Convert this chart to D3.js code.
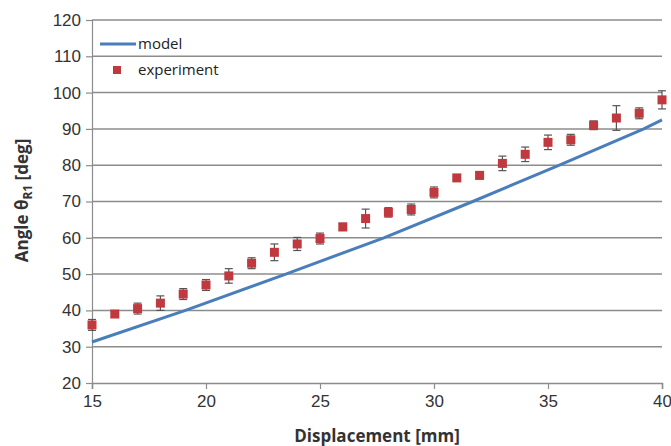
<!DOCTYPE html>
<html>
<head>
<meta charset="utf-8">
<script src="https://cdn.jsdelivr.net/npm/d3@7"></script>
<style>
  body { margin: 0; background: #fff; }
  svg { font-family: "Open Sans", "Liberation Sans", sans-serif; }
</style>
</head>
<body>
<div id="chart"></div>
<script>
// model curve
const modelX = [15, 19.1, 23.5, 27.8, 31.7, 35.5, 39.2, 40];
const modelY = [31.3, 40, 50, 60, 70, 80, 90, 92.5];

// experiment points with error
const expX = [15, 16, 17, 18, 19, 20, 21, 22, 23, 24, 25, 26, 27, 28, 29, 30, 31, 32, 33, 34, 35, 36, 37, 38, 39, 40];
const expY = [36, 39, 40.5, 42, 44.5, 47, 49.5, 53, 56, 58.3, 59.8, 63, 65.3, 67, 67.8, 72.5, 76.5, 77.2, 80.5, 83, 86.3, 87, 91, 93, 94.3, 98];
const expErr = [1.5, 0.8, 1.5, 2, 1.5, 1.5, 2, 1.5, 2.3, 1.8, 1.5, 1, 2.6, 1.3, 1.5, 1.5, 0.5, 1, 2, 2, 2, 1.5, 1.2, 3.4, 1.5, 2.5];

const xTicks = [15, 20, 25, 30, 35, 40];
const yTicks = [20, 30, 40, 50, 60, 70, 80, 90, 100, 110, 120];

const W = 671, H = 446;
const margin = {top: 20, right: 9, bottom: 63, left: 92};
const width = W - margin.left - margin.right;
const height = H - margin.top - margin.bottom;

const svg = d3.select('#chart').append('svg')
    .attr('width', W)
    .attr('height', H);

const g = svg.append('g')
    .attr('transform', `translate(${margin.left},${margin.top})`);

const x = d3.scaleLinear().domain([15, 40]).range([0, width]);
const y = d3.scaleLinear().domain([20, 120]).range([height, 0]);

// gridlines
g.append('g')
    .selectAll('line')
    .data(yTicks.slice(1))
    .enter().append('line')
    .attr('x1', 0)
    .attr('x2', width)
    .attr('y1', d => y(d))
    .attr('y2', d => y(d))
    .attr('stroke', '#8c8c8c')
    .attr('stroke-width', 1.5);

// y axis
const yAxis = g.append('g')
    .call(d3.axisLeft(y).tickValues(yTicks).tickSize(6).tickPadding(5));
yAxis.select('.domain').attr('stroke', '#8c8c8c').attr('stroke-width', 1.2);
yAxis.selectAll('line').attr('stroke', '#8c8c8c').attr('stroke-width', 1.2);
yAxis.selectAll('text').attr('font-size', 17).attr('fill', '#333');

// x axis
const xAxis = g.append('g')
    .attr('transform', `translate(0,${height})`)
    .call(d3.axisBottom(x).tickValues(xTicks).tickSize(6).tickPadding(6));
xAxis.select('.domain').attr('stroke', '#8c8c8c').attr('stroke-width', 1.5);
xAxis.selectAll('line').attr('stroke', '#8c8c8c').attr('stroke-width', 1.2);
xAxis.selectAll('text').attr('font-size', 17).attr('fill', '#333');

// model line
const modelData = modelX.map((d, i) => ({x: d, y: modelY[i]}));
g.append('path')
    .datum(modelData)
    .attr('fill', 'none')
    .attr('stroke', '#4a7ebb')
    .attr('stroke-width', 3)
    .attr('d', d3.line().x(d => x(d.x)).y(d => y(d.y)));

// experiment
const expData = expX.map((d, i) => ({x: d, y: expY[i], e: expErr[i]}));
const pts = g.append('g').selectAll('g')
    .data(expData)
    .enter().append('g');

pts.append('line')
    .attr('x1', d => x(d.x)).attr('x2', d => x(d.x))
    .attr('y1', d => y(d.y - d.e)).attr('y2', d => y(d.y + d.e))
    .attr('stroke', '#555').attr('stroke-width', 1.2);
pts.append('line')
    .attr('x1', d => x(d.x) - 4).attr('x2', d => x(d.x) + 4)
    .attr('y1', d => y(d.y + d.e)).attr('y2', d => y(d.y + d.e))
    .attr('stroke', '#555').attr('stroke-width', 1.2);
pts.append('line')
    .attr('x1', d => x(d.x) - 4).attr('x2', d => x(d.x) + 4)
    .attr('y1', d => y(d.y - d.e)).attr('y2', d => y(d.y - d.e))
    .attr('stroke', '#555').attr('stroke-width', 1.2);
pts.append('rect')
    .attr('x', d => x(d.x) - 4.5)
    .attr('y', d => y(d.y) - 4.5)
    .attr('width', 9)
    .attr('height', 9)
    .attr('fill', '#c0393f');

// legend
const legend = g.append('g');
legend.append('line')
    .attr('x1', 8).attr('x2', 44)
    .attr('y1', 24).attr('y2', 24)
    .attr('stroke', '#4a7ebb').attr('stroke-width', 3);
legend.append('text')
    .attr('x', 46).attr('y', 24).attr('dy', '0.35em')
    .attr('font-size', 15).attr('fill', '#222')
    .text('model');
legend.append('rect')
    .attr('x', 21).attr('y', 46)
    .attr('width', 8).attr('height', 8)
    .attr('fill', '#c0393f');
legend.append('text')
    .attr('x', 46).attr('y', 50).attr('dy', '0.35em')
    .attr('font-size', 15).attr('fill', '#222')
    .text('experiment');

// axis titles
svg.append('text')
    .attr('x', margin.left + width / 2)
    .attr('y', 442)
    .attr('text-anchor', 'middle')
    .attr('font-size', 17)
    .attr('font-weight', 'bold')
    .attr('fill', '#333')
    .text('Displacement [mm]');

const yt = svg.append('text')
    .attr('transform', `translate(28,${margin.top + height / 2 - 1}) rotate(-90)`)
    .attr('text-anchor', 'middle')
    .attr('font-size', 17)
    .attr('font-weight', 'bold')
    .attr('fill', '#333');
yt.append('tspan').text('Angle θ');
yt.append('tspan').attr('font-size', 12).attr('dy', 4).text('R1');
yt.append('tspan').attr('dy', -4).text(' [deg]');
</script>
</body>
</html>
